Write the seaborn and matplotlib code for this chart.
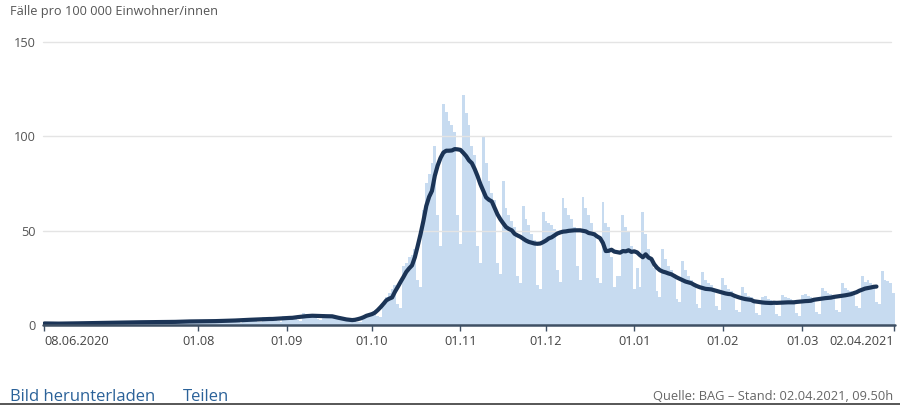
import numpy as np
import pandas as pd
import matplotlib
matplotlib.use("Agg")
import matplotlib.pyplot as plt
import seaborn as sns

# ---------------- data ----------------
start_date = "2020-06-08"
end_date = "2021-04-02"
line_end_date = "2021-03-27"
avg_window = 7

# daily cases per 100 000 inhabitants, one row per week (Mon..Sun)
daily_cases = [
    0.9, 0.8, 0.8, 0.8, 0.7, 0.5, 0.4,        # 08.06.
    1.0, 0.9, 0.9, 0.9, 0.8, 0.5, 0.6,        # 15.06.
    1.3, 1.2, 1.1, 1.1, 1.0, 0.7, 0.6,        # 22.06.
    1.6, 1.4, 1.4, 1.3, 1.2, 0.8, 0.7,        # 29.06.
    1.8, 1.7, 1.6, 1.5, 1.5, 0.9, 0.8,        # 06.07.
    2.0, 1.8, 1.7, 1.6, 1.6, 1.0, 0.8,        # 13.07.
    2.1, 1.9, 1.8, 1.8, 1.7, 1.0, 0.9,        # 20.07.
    2.5, 2.3, 2.2, 2.1, 2.0, 1.2, 1.0,        # 27.07.
    2.6, 2.4, 2.3, 2.2, 2.1, 1.3, 1.1,        # 03.08.
    3.0, 2.8, 2.6, 2.5, 2.4, 1.5, 1.3,        # 10.08.
    3.6, 3.4, 3.2, 3.1, 2.9, 1.8, 1.6,        # 17.08.
    4.2, 3.8, 3.7, 3.5, 3.4, 2.1, 1.7,        # 24.08.
    4.9, 4.6, 4.4, 4.2, 4.0, 2.5, 2.0,        # 31.08.
    6.4, 5.9, 5.6, 5.4, 5.1, 3.2, 2.7,        # 07.09.
    6.0, 5.5, 5.3, 5.1, 4.8, 3.0, 2.5,        # 14.09.
    3.4, 3.1, 3.0, 2.9, 2.7, 1.7, 1.4,        # 21.09.
    4.5, 5.5, 6.0, 7.0, 8.0, 5.0, 4.5,        # 28.09.
    10, 15, 17, 19, 21, 11, 9,                # 05.10.
    31, 33, 36, 37, 40, 24, 20,               # 12.10.
    61, 75, 80, 86, 95, 58, 42,               # 19.10.
    117, 113, 108, 106, 102, 58, 43,          # 26.10.
    122, 112, 106, 95, 90, 42, 33,            # 02.11.
    100, 86, 76, 70, 66, 33, 27,              # 09.11.
    76, 62, 58, 55, 52, 26, 22,               # 16.11.
    63, 56, 53, 48, 45, 21, 19,               # 23.11.
    60, 55, 54, 53, 51, 29, 23,               # 30.11.
    67, 62, 58, 56, 52, 31, 24,               # 07.12.
    68, 62, 58, 54, 50, 25, 22,               # 14.12.
    65, 54, 52, 36, 20, 26, 26,               # 21.12.
    58, 52, 50, 42, 19, 30, 20,               # 28.12.
    60, 48, 40, 34, 30, 18, 15,               # 04.01.
    40, 35, 31, 29, 27, 14, 12,               # 11.01.
    34, 29, 26, 24, 22, 11, 9,                # 18.01.
    28, 24, 22, 21, 19, 10, 8,                # 25.01.
    25, 21, 19, 18, 16, 8, 7,                 # 01.02.
    20, 17, 15.5, 15, 13.5, 6.5, 5.5,         # 08.02.
    15, 15.5, 14, 13.5, 12.5, 6, 5,           # 15.02.
    16, 15, 14.5, 14, 13, 6.5, 5,             # 22.02.
    16, 16.5, 15.5, 15, 14, 7, 6,             # 01.03.
    19.5, 18, 17, 16.5, 15.5, 8, 7,           # 08.03.
    22, 19.5, 18.5, 18, 17, 10, 9,            # 15.03.
    26, 23, 24, 22, 21, 12, 11,               # 22.03.
    28.5, 24, 23.5, 22, 17,                   # 29.03.
]

tick_dates = ["2020-06-08", "2020-08-01", "2020-09-01", "2020-10-01", "2020-11-01",
              "2020-12-01", "2021-01-01", "2021-02-01", "2021-03-01", "2021-04-02"]
tick_labels = ["08.06.2020", "01.08", "01.09", "01.10", "01.11",
               "01.12", "01.01", "01.02", "01.03", "02.04.2021"]
y_ticks = [0, 50, 100, 150]
y_tick_labels = ["0", "50", "100", "150"]

title_text = "Fälle pro 100 000 Einwohner/innen"
source_text = "Quelle: BAG \u2013 Stand: 02.04.2021, 09.50h"

# ---------------- frame ----------------
dates = pd.date_range(start_date, end_date)
df = pd.DataFrame({"day": np.arange(len(dates)), "date": dates, "cases": daily_cases})
df["avg"] = df["cases"].rolling(avg_window, center=True, min_periods=1).mean()
line_df = df[df["date"] <= pd.Timestamp(line_end_date)]
tick_pos = [(pd.Timestamp(d) - pd.Timestamp(start_date)).days for d in tick_dates]

BAR = "#c7dbf0"
LINE = "#1b3456"
AXIS = "#3f5064"
GRID = "#e4e4e4"

sns.set_theme(style="white")
plt.rcParams["font.family"] = ["Open Sans", "DejaVu Sans"]

W, H = 900, 405
fig = plt.figure(figsize=(9, 4.05), dpi=100)
fig.patch.set_facecolor("white")
ax = fig.add_axes([43 / W, 1 - 325 / H, (895 - 43) / W, (325 - 41.7) / H])

sns.barplot(data=df, x="day", y="cases", native_scale=True, width=1.0,
            color=BAR, saturation=1, errorbar=None, linewidth=0,
            ax=ax, zorder=1)

for yv in y_ticks[1:]:
    ax.axhline(yv, xmax=0.995, color=GRID, lw=1.0, zorder=2, clip_on=False)

sns.lineplot(data=line_df, x="day", y="avg", color=LINE, linewidth=3.0,
             ax=ax, zorder=4, solid_capstyle="round", solid_joinstyle="round")

ax.axhline(0, color=AXIS, lw=1.8, zorder=5, clip_on=False)

ax.set_xlim(-0.5, len(df) - 0.5)
ax.set_ylim(0, 150)
for s in ax.spines.values():
    s.set_visible(False)
ax.set_xlabel("")
ax.set_ylabel("")

ax.set_yticks(y_ticks)
ax.set_yticklabels(y_tick_labels)
ax.tick_params(axis="y", length=0, pad=5, labelsize=9.2, labelcolor="#555555")

ax.set_xticks(tick_pos)
ax.set_xticklabels(tick_labels)
ax.tick_params(axis="x", length=4, width=1, color=AXIS, direction="out", pad=3,
               labelsize=9.2, labelcolor="#444444", bottom=True)
xl = ax.get_xticklabels()
xl[0].set_horizontalalignment("left")
xl[-1].set_horizontalalignment("right")
for lab in xl[1:-1]:
    lab.set_horizontalalignment("center")

fig.text(10 / W, 1 - 12 / H, title_text, ha="left", va="center",
         fontsize=9.2, color="#555555")
fig.text(10 / W, 1 - 397 / H, "Bild herunterladen", ha="left", va="center",
         fontsize=12, color="#2b6299")
fig.text(183 / W, 1 - 397 / H, "Teilen", ha="left", va="center",
         fontsize=12, color="#2b6299")
fig.text(893 / W, 1 - 397 / H, source_text, ha="right", va="center",
         fontsize=9.3, color="#666666")

fig.add_artist(plt.Rectangle((0, 0), 1, 2 / H, transform=fig.transFigure,
                             color="#5a5a5a", lw=0))

fig.savefig("out.png", dpi=100, facecolor="white")
